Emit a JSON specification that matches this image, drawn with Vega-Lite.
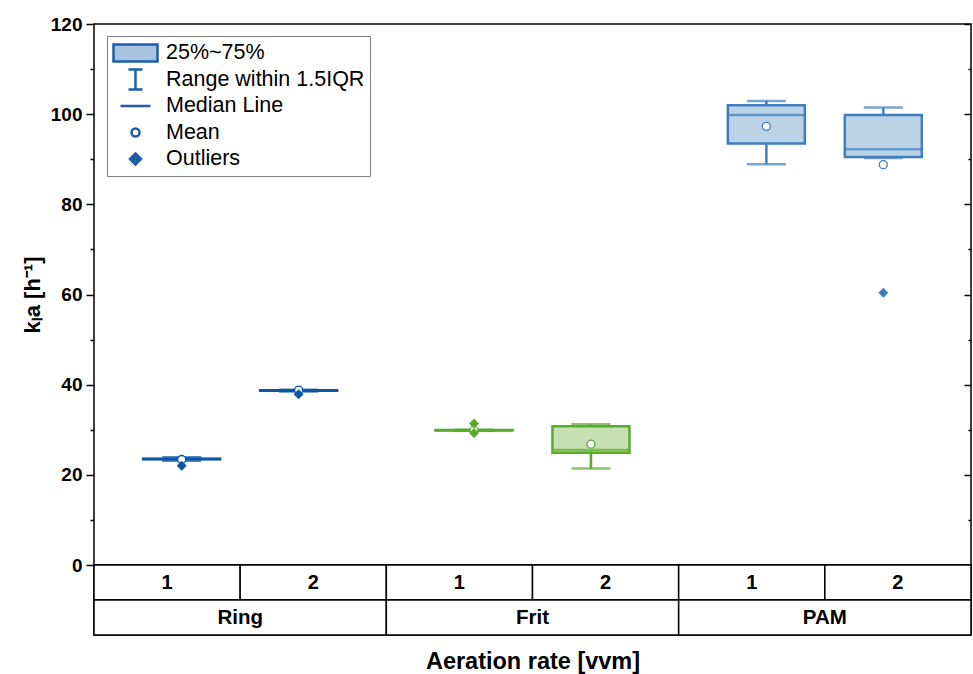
{
  "$schema": "https://vega.github.io/schema/vega-lite/v6.json",
  "padding": {"left": 20, "top": 14, "right": 0, "bottom": 0},
  "config": {
    "font": "Liberation Sans",
    "view": {"stroke": "black", "strokeWidth": 1.5}
  },
  "datasets": {
    "stats": [
      {"group": "Ring", "rate": 1, "lo": 23.1, "q1": 23.45, "median": 23.5, "q3": 23.55, "hi": 23.9, "mean": 23.4},
      {"group": "Ring", "rate": 2, "lo": 38.5, "q1": 38.65, "median": 38.7, "q3": 38.75, "hi": 38.9, "mean": 38.8},
      {"group": "Frit", "rate": 1, "lo": 29.8, "q1": 29.85, "median": 29.9, "q3": 29.95, "hi": 30.0, "mean": 29.9},
      {"group": "Frit", "rate": 2, "lo": 21.4, "q1": 24.9, "median": 25.5, "q3": 30.8, "hi": 31.2, "mean": 26.8},
      {"group": "PAM", "rate": 1, "lo": 88.9, "q1": 93.5, "median": 99.8, "q3": 102.0, "hi": 102.9, "mean": 97.3},
      {"group": "PAM", "rate": 2, "lo": 90.3, "q1": 90.5, "median": 92.2, "q3": 99.8, "hi": 101.5, "mean": 88.8}
    ],
    "outliers": [
      {"group": "Ring", "rate": 1, "value": 22.0},
      {"group": "Ring", "rate": 2, "value": 37.9},
      {"group": "Frit", "rate": 1, "value": 31.4},
      {"group": "Frit", "rate": 1, "value": 29.3},
      {"group": "PAM", "rate": 2, "value": 60.4}
    ],
    "groups": [
      {"group": "Ring"},
      {"group": "Frit"},
      {"group": "PAM"}
    ],
    "legenditems": [
      {"item": "25%~75%"},
      {"item": "Range within 1.5IQR"},
      {"item": "Median Line"},
      {"item": "Mean"},
      {"item": "Outliers"}
    ]
  },
  "spacing": 0,
  "bounds": "flush",
  "resolve": {"scale": {"x": "independent", "xOffset": "independent"}},
  "vconcat": [
    {
      "width": 877,
      "height": 541,
      "data": {"name": "stats"},
      "encoding": {
        "x": {"field": "group", "type": "nominal", "scale": {"domain": ["Ring", "Frit", "PAM"], "paddingInner": 0, "paddingOuter": 0}, "axis": null},
        "xOffset": {"field": "rate", "type": "nominal", "scale": {"domain": [1, 2], "paddingInner": 0, "paddingOuter": 0.25}}
      },
      "layer": [
        {
          "mark": {"type": "rule", "strokeWidth": 2.5},
          "encoding": {
            "y": {"field": "lo", "type": "quantitative", "scale": {"domain": [0, 120], "nice": false, "zero": false},
              "axis": {
                "orient": "left",
                "values": [0, 10, 20, 30, 40, 50, 60, 70, 80, 90, 100, 110, 120],
                "labelExpr": "datum.value % 20 === 0 ? datum.label : ''",
                "labelFontSize": 19, "labelFontWeight": "bold", "labelColor": "black", "labelPadding": 4,
                "tickSize": {"condition": {"test": "datum.value % 20 === 0", "value": 8}, "value": 4},
                "tickColor": "black", "tickWidth": 1.5, "domain": false, "grid": false,
                "title": "kₗa [h⁻¹]", "titleFontSize": 22, "titleFontWeight": "bold", "titleColor": "black", "titlePadding": 6
              }
            },
            "y2": {"field": "hi"},
            "stroke": {"field": "group", "type": "nominal", "scale": {"domain": ["Ring", "Frit", "PAM"], "range": ["#0b57a4", "#5aab2b", "#3f7fbf"]}, "legend": null}
          }
        },
        {
          "mark": {"type": "bar", "width": 77, "strokeWidth": 2.5},
          "encoding": {
            "y": {"field": "q1", "type": "quantitative",
              "axis": {
                "orient": "right",
                "values": [0, 10, 20, 30, 40, 50, 60, 70, 80, 90, 100, 110, 120],
                "labels": false,
                "tickSize": {"condition": {"test": "datum.value % 20 === 0", "value": -7}, "value": -3},
                "tickColor": "black", "tickWidth": 1.5, "domain": false, "grid": false, "title": null
              }
            },
            "y2": {"field": "q3"},
            "fill": {"field": "group", "type": "nominal", "scale": {"domain": ["Ring", "Frit", "PAM"], "range": ["#a8c3e0", "#c6e0b4", "#bcd2e7"]}, "legend": null},
            "stroke": {"field": "group", "type": "nominal", "scale": {"domain": ["Ring", "Frit", "PAM"], "range": ["#0b57a4", "#5aab2b", "#3f7fbf"]}, "legend": null}
          }
        },
        {
          "mark": {"type": "tick", "size": 77, "thickness": 2.5},
          "encoding": {
            "y": {"field": "median", "type": "quantitative", "axis": null},
            "color": {"field": "group", "type": "nominal", "scale": {"domain": ["Ring", "Frit", "PAM"], "range": ["#0b57a4", "#5aab2b", "#3f7fbf"]}, "legend": null}
          }
        },
        {
          "mark": {"type": "tick", "size": 39, "thickness": 2.5},
          "encoding": {
            "y": {"field": "hi", "type": "quantitative", "axis": null},
            "color": {"field": "group", "type": "nominal", "legend": null}
          }
        },
        {
          "mark": {"type": "tick", "size": 39, "thickness": 2.5},
          "encoding": {
            "y": {"field": "lo", "type": "quantitative", "axis": null},
            "color": {"field": "group", "type": "nominal", "legend": null}
          }
        },
        {
          "mark": {"type": "point", "shape": "circle", "size": 64, "filled": true, "fill": "white", "strokeWidth": 1.3, "opacity": 1},
          "encoding": {
            "y": {"field": "mean", "type": "quantitative", "axis": null},
            "stroke": {"field": "group", "type": "nominal", "scale": {"domain": ["Ring", "Frit", "PAM"], "range": ["#0b57a4", "#5aab2b", "#3f7fbf"]}, "legend": null}
          }
        },
        {
          "data": {"name": "outliers"},
          "mark": {"type": "point", "shape": "diamond", "size": 100, "filled": true, "opacity": 1},
          "encoding": {
            "y": {"field": "value", "type": "quantitative", "axis": null},
            "color": {"field": "group", "type": "nominal", "legend": null}
          }
        },
        {
          "data": {"name": "legenditems"},
          "transform": [{"filter": "false"}],
          "mark": {"type": "point", "filled": true, "opacity": 1},
          "encoding": {
            "x": {"field": "item", "type": "nominal", "axis": null},
            "xOffset": null,
            "shape": {"field": "item", "type": "nominal",
              "scale": {"domain": ["25%~75%", "Range within 1.5IQR", "Median Line", "Mean", "Outliers"],
                "range": ["M-2.2,-0.85H2.2V0.85H-2.2Z", "M-0.7,-1H0.7M0,-1V1M-0.7,1H0.7", "M-1.5,0H1.5", "M0.4,0A0.4,0.4,0,1,1,-0.4,0A0.4,0.4,0,1,1,0.4,0Z", "M0,-0.55L0.55,0L0,0.55L-0.55,0Z"]},
              "legend": {"title": null, "orient": "none", "legendX": 13, "legendY": 12, "symbolSize": 400, "labelFontSize": 21.5, "labelColor": "black", "padding": 5, "rowPadding": 2.5, "clipHeight": 24, "symbolOffset": 12, "labelOffset": 19, "strokeColor": "#808080", "fillColor": "white", "labelLimit": 400}
            },
            "fill": {"field": "item", "type": "nominal",
              "scale": {"domain": ["25%~75%", "Range within 1.5IQR", "Median Line", "Mean", "Outliers"],
                "range": ["#a8c3e0", "transparent", "transparent", "white", "#1d5ea8"]},
              "legend": {"title": null, "orient": "none", "legendX": 13, "legendY": 12, "symbolSize": 400, "labelFontSize": 21.5, "labelColor": "black", "padding": 5, "rowPadding": 2.5, "clipHeight": 24, "symbolOffset": 12, "labelOffset": 19, "strokeColor": "#808080", "fillColor": "white", "labelLimit": 400}
            },
            "stroke": {"field": "item", "type": "nominal",
              "scale": {"domain": ["25%~75%", "Range within 1.5IQR", "Median Line", "Mean", "Outliers"],
                "range": ["#1d5ea8", "#1d5ea8", "#1d5ea8", "#1d5ea8", "#1d5ea8"]},
              "legend": {"title": null, "orient": "none", "legendX": 13, "legendY": 12, "symbolSize": 400, "labelFontSize": 21.5, "labelColor": "black", "padding": 5, "rowPadding": 2.5, "clipHeight": 24, "symbolOffset": 12, "labelOffset": 19, "strokeColor": "#808080", "fillColor": "white", "labelLimit": 400}
            },
            "strokeWidth": {"field": "item", "type": "nominal",
              "scale": {"domain": ["25%~75%", "Range within 1.5IQR", "Median Line", "Mean", "Outliers"],
                "range": [2.5, 2.5, 2.5, 1.3, 0]},
              "legend": {"title": null, "orient": "none", "legendX": 13, "legendY": 12, "symbolSize": 400, "labelFontSize": 21.5, "labelColor": "black", "padding": 5, "rowPadding": 2.5, "clipHeight": 24, "symbolOffset": 12, "labelOffset": 19, "strokeColor": "#808080", "fillColor": "white", "labelLimit": 400}
            }
          }
        }
      ],
      "resolve": {"scale": {"fill": "independent", "shape": "independent", "stroke": "independent", "strokeWidth": "independent", "x": "independent"}, "axis": {"y": "independent"}}
    },
    {
      "width": 877,
      "height": 35,
      "data": {"name": "stats"},
      "encoding": {
        "x": {"field": "group", "type": "nominal", "scale": {"domain": ["Ring", "Frit", "PAM"], "paddingInner": 0, "paddingOuter": 0}, "axis": null},
        "xOffset": {"field": "rate", "type": "nominal", "scale": {"domain": [1, 2], "paddingInner": 0, "paddingOuter": 0}}
      },
      "layer": [
        {"mark": {"type": "rect", "fill": "white", "stroke": "black", "strokeWidth": 1.5}},
        {"mark": {"type": "text", "fontSize": 20, "fontWeight": "bold", "color": "black"}, "encoding": {"text": {"field": "rate"}}}
      ]
    },
    {
      "width": 877,
      "height": 35,
      "data": {"name": "groups"},
      "encoding": {
        "x": {"field": "group", "type": "nominal", "scale": {"domain": ["Ring", "Frit", "PAM"], "paddingInner": 0, "paddingOuter": 0},
          "axis": {"labels": false, "ticks": false, "domain": false, "title": "Aeration rate [vvm]", "titleFontSize": 23.5, "titleFontWeight": "bold", "titleColor": "black", "titlePadding": 14}}
      },
      "layer": [
        {"mark": {"type": "rect", "fill": "white", "stroke": "black", "strokeWidth": 1.5}},
        {"mark": {"type": "text", "fontSize": 20.5, "fontWeight": "bold", "color": "black"}, "encoding": {"text": {"field": "group"}}}
      ]
    }
  ]
}
